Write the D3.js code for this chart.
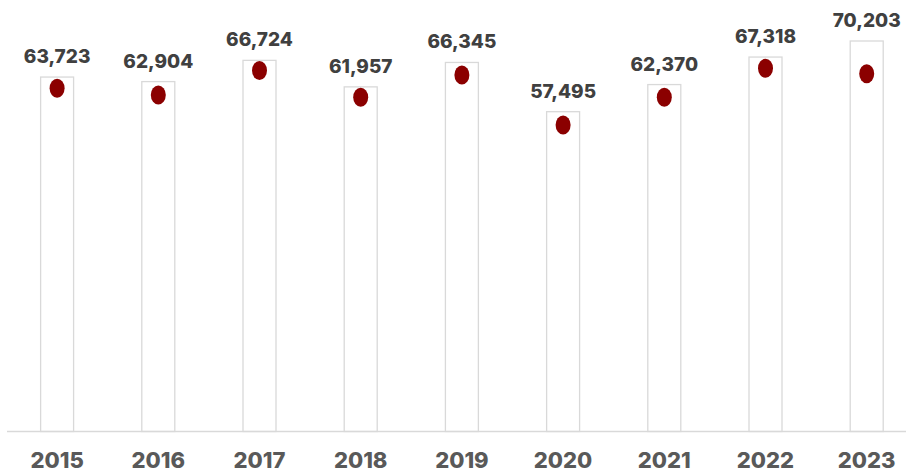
<!DOCTYPE html>
<html>
<head>
<meta charset="utf-8">
<script src="https://cdn.jsdelivr.net/npm/d3@7"></script>
<style>
  body { margin: 0; background: #fff; }
  text { font-family: Inter, "Open Sans", sans-serif; font-weight: 800; }
</style>
</head>
<body>
<svg id="chart"></svg>
<script>
var width = 906,
	height = 472;

// data
var years = ["2015", "2016", "2017", "2018", "2019", "2020", "2021", "2022", "2023"];
var totals = [63723, 62904, 66724, 61957, 66345, 57495, 62370, 67318, 70203];
var markers = [61700, 60500, 64900, 60100, 64100, 55100, 60100, 65300, 64300];

var svg = d3.select("#chart")
	.attr("width", width)
	.attr("height", height);

var x = d3.scaleBand()
	.domain(years)
	.range([6.5, 917.3])
	.paddingInner(0.674)
	.paddingOuter(0.337);

var y = d3.scaleLinear()
	.domain([0, 70203])
	.range([431.5, 41]);

var fmt = d3.format(",");

// bars
svg.selectAll("rect.bar")
	.data(years)
.enter().append("rect")
	.attr("class", "bar")
	.attr("x", function(d) { return x(d); })
	.attr("y", function(d, i) { return y(totals[i]); })
	.attr("width", x.bandwidth())
	.attr("height", function(d, i) { return y(0) - y(totals[i]); })
	.attr("fill", "#fff")
	.attr("stroke", "#d9d9d9")
	.attr("stroke-width", 1.3);

// baseline
svg.append("line")
	.attr("x1", 7)
	.attr("x2", 906)
	.attr("y1", y(0))
	.attr("y2", y(0))
	.attr("stroke", "#d9d9d9")
	.attr("stroke-width", 1.5);

// value labels
svg.selectAll("text.value")
	.data(years)
.enter().append("text")
	.attr("class", "value")
	.attr("x", function(d) { return x(d) + x.bandwidth() / 2; })
	.attr("y", function(d, i) { return y(totals[i]) - 14; })
	.attr("text-anchor", "middle")
	.attr("font-size", 19)
	.attr("fill", "#404040")
	.text(function(d, i) { return fmt(totals[i]); });

// markers
svg.selectAll("ellipse.dot")
	.data(years)
.enter().append("ellipse")
	.attr("class", "dot")
	.attr("cx", function(d) { return x(d) + x.bandwidth() / 2; })
	.attr("cy", function(d, i) { return y(markers[i]); })
	.attr("rx", 7.5)
	.attr("ry", 9.5)
	.attr("fill", "#8b0000");

// year labels
svg.selectAll("text.year")
	.data(years)
.enter().append("text")
	.attr("class", "year")
	.attr("x", function(d) { return x(d) + x.bandwidth() / 2; })
	.attr("y", 468)
	.attr("text-anchor", "middle")
	.attr("font-size", 22)
	.attr("fill", "#595959")
	.text(function(d) { return d; });
</script>
</body>
</html>
